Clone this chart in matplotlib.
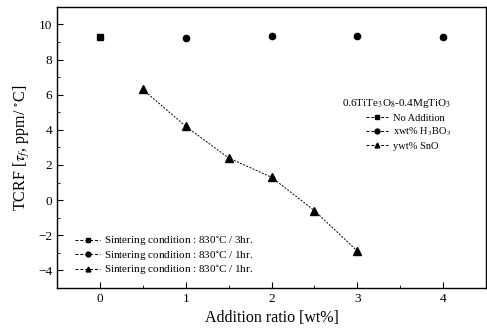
import matplotlib.pyplot as plt
from matplotlib.lines import Line2D

plt.rcParams['font.family'] = ['Liberation Serif', 'DejaVu Serif']
plt.rcParams['mathtext.fontset'] = 'stix'

# data
x_none = [0]
y_none = [9.3]
x_hbo = [1, 2, 3, 4]
y_hbo = [9.25, 9.35, 9.35, 9.28]
x_sno = [0.5, 1.0, 1.5, 2.0, 2.5, 3.0]
y_sno = [6.3, 4.2, 2.4, 1.3, -0.6, -2.9]

series_labels = ['No Addition', 'xwt% H$_3$BO$_3$', 'ywt% SnO']
cond_labels = ['Sintering condition : 830$^{\\circ}$C / 3hr.',
               'Sintering condition : 830$^{\\circ}$C / 1hr.',
               'Sintering condition : 830$^{\\circ}$C / 1hr.']
markers = ['s', 'o', '^']

fig = plt.figure(figsize=(4.87, 3.29), dpi=100)
ax = fig.add_axes([0.117, 0.125, 0.881, 0.854])

h1, = ax.plot(x_none, y_none, ls='none', color='black', marker='s', ms=4.5)
h2, = ax.plot(x_hbo, y_hbo, ls='none', color='black', marker='o', ms=4.5)
h3, = ax.plot(x_sno, y_sno, ls=(0, (2, 1.5)), lw=0.7, color='black', marker='^', ms=5.5)

ax.set_xlim(-0.5, 4.5)
ax.set_ylim(-5, 11)
ax.set_xticks([0, 1, 2, 3, 4])
ax.set_xticks([-0.5, 0.5, 1.5, 2.5, 3.5], minor=True)
ax.set_yticks([-4, -2, 0, 2, 4, 6, 8, 10])
ax.set_yticks(range(-5, 12), minor=True)
ax.tick_params(direction='in', labelsize=9.5, length=4, width=0.8)
ax.tick_params(which='minor', direction='in', length=2, width=0.6)
for s in ax.spines.values():
    s.set_linewidth(1.0)

ax.set_xlabel('Addition ratio [wt%]', fontsize=11.5)
ax.set_ylabel('TCRF [$\\tau_f$, ppm/ $^{\\circ}$C]', fontsize=11.5)

proxy = [Line2D([], [], ls=(0, (3, 2)), lw=0.7, color='black', marker=m, ms=3.5)
         for m in markers]

leg1 = ax.legend(proxy, series_labels, title='0.6TiTe$_3$O$_8$-0.4MgTiO$_3$',
                 loc='upper right', bbox_to_anchor=(0.935, 0.705), frameon=False,
                 fontsize=7.5, title_fontsize=8, handlelength=2.2,
                 labelspacing=0.3, handletextpad=0.4, borderpad=0.2)
leg1._legend_box.align = 'right'
ax.add_artist(leg1)

ax.legend(proxy, cond_labels, loc='lower left', bbox_to_anchor=(0.025, 0.012),
          frameon=False, fontsize=8, handlelength=2.2, labelspacing=0.05,
          handletextpad=0.4, borderpad=0.2)

fig.savefig('out.png', dpi=100)
